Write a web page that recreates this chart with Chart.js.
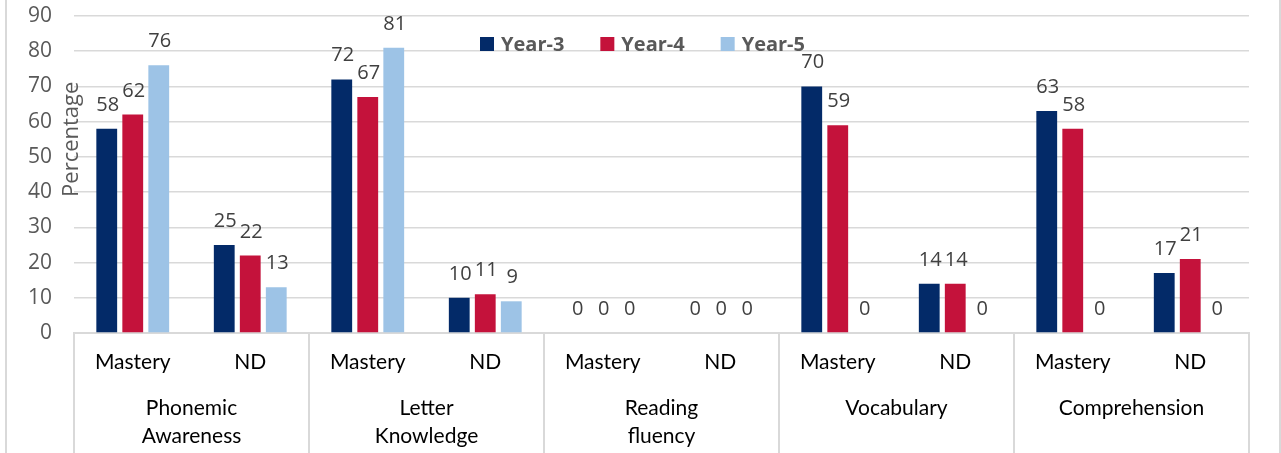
<!DOCTYPE html>
<html><head><meta charset="utf-8">
<script src="https://cdn.jsdelivr.net/npm/chart.js@4/dist/chart.umd.min.js"></script>
<style>html,body{margin:0;padding:0;background:#fff;}</style>
</head><body>
<canvas id="c" width="1281" height="453"></canvas>
<script>
// ---- data ----
const subCategories = ["Mastery","ND","Mastery","ND","Mastery","ND","Mastery","ND","Mastery","ND"];
const groups = [["Phonemic","Awareness"],["Letter","Knowledge"],["Reading","fluency"],"Vocabulary","Comprehension"];
const seriesNames = ["Year-3","Year-4","Year-5"];
const year3 = [58,25,72,10,0,0,70,14,63,17];
const year4 = [62,22,67,11,0,0,59,14,58,21];
const year5 = [76,13,81,9,0,0,0,0,0,0];
const yTicks = [0,10,20,30,40,50,60,70,80,90];
const yTitle = "Percentage";

// ---- styles ----
const colors = ["#032a68","#c4123b","#9dc3e6"];
const gridColor = "#d9d9d9";
const numFont = "'Open Sans', sans-serif";
const catFont = "Lato, sans-serif";

const frame = {
  id:'frame',
  beforeDraw(chart){
    const ctx = chart.ctx;
    ctx.save();
    ctx.strokeStyle = gridColor; ctx.lineWidth = 2;
    ctx.beginPath();
    ctx.moveTo(6,0); ctx.lineTo(6,chart.height);
    ctx.moveTo(1280,0); ctx.lineTo(1280,chart.height);
    ctx.stroke();
    ctx.restore();
  },
  afterDraw(chart){
    const ctx = chart.ctx, xs = chart.scales.x, ys = chart.scales.y, ca = chart.chartArea;
    ctx.save();
    ctx.strokeStyle = gridColor; ctx.lineWidth = 2;
    ctx.beginPath();
    for (let i = 0; i <= groups.length; i++) {
      const px = Math.round(xs.getPixelForValue(i*2 - 0.5));
      ctx.moveTo(px, xs.top); ctx.lineTo(px, chart.height);
    }
    ctx.stroke();
    ctx.fillStyle = "#595959";
    ctx.font = "22px " + numFont;
    ctx.textAlign = "center"; ctx.textBaseline = "middle";
    ctx.translate(ca.left - 2, ys.getPixelForValue(55));
    ctx.rotate(-Math.PI/2);
    ctx.fillText(yTitle, 0, 0);
    ctx.restore();
    ctx.save();
    ctx.font = "bold 20px " + numFont;
    ctx.textBaseline = "middle"; ctx.textAlign = "left";
    const box = 14, gapT = 7, gapI = 36;
    const items = chart.data.datasets.map(d => ({label:d.label, color:d.backgroundColor, w: ctx.measureText(d.label).width}));
    let total = items.reduce((s,it)=>s+box+gapT+it.w,0) + gapI*(items.length-1);
    let x = chart.width/2 - total/2 + 2;
    const y = ca.top + 28;
    items.forEach(it => {
      ctx.fillStyle = it.color; ctx.fillRect(x, y - box/2, box, box);
      x += box + gapT;
      ctx.fillStyle = "#595959"; ctx.fillText(it.label, x, y + 1);
      x += it.w + gapI;
    });
    ctx.restore();
  },
  afterDatasetsDraw(chart){
    const ctx = chart.ctx;
    ctx.save();
    ctx.font = "20px " + numFont;
    ctx.fillStyle = "#404040";
    ctx.textAlign = "center"; ctx.textBaseline = "alphabetic";
    chart.data.datasets.forEach((ds, di) => {
      const meta = chart.getDatasetMeta(di);
      meta.data.forEach((el, i) => {
        ctx.fillText(String(ds.data[i]), el.x + 1, el.y - 18);
      });
    });
    ctx.restore();
  }
};

new Chart(document.getElementById('c'), {
  type: 'bar',
  data: {
    labels: subCategories,
    datasets: seriesNames.map((n, i) => ({
      label: n,
      data: [year3, year4, year5][i],
      backgroundColor: colors[i],
      categoryPercentage: 0.664,
      barPercentage: 0.8,
      xAxisID: 'x'
    }))
  },
  options: {
    responsive: false,
    animation: false,
    devicePixelRatio: 1,
    layout: { padding: { left: 0, right: 32, top: 16, bottom: 0 } },
    plugins: { legend: { display: false }, tooltip: { enabled: false } },
    scales: {
      y: {
        min: yTicks[0], max: yTicks[yTicks.length-1],
        afterFit(s){ s.width = 74; },
        ticks: { stepSize: yTicks[1]-yTicks[0], color: "#595959", font: { family: "Open Sans", size: 21 }, padding: 0 },
        grid: { color: gridColor, lineWidth: 1.5, drawTicks: true, tickLength: 22, tickColor: 'rgba(0,0,0,0)' },
        border: { display: false }
      },
      x: {
        position: 'bottom',
        afterFit(s){ s.height = 58; },
        grid: { display: false, drawTicks: false },
        border: { display: true, color: gridColor, width: 2 },
        ticks: { color: "#000", font: { family: catFont, size: 21 }, padding: 17, maxRotation: 0, autoSkip: false }
      },
      x2: {
        type: 'category',
        position: 'bottom',
        labels: groups,
        afterFit(s){ s.height = 62; },
        grid: { display: false, drawTicks: false },
        border: { display: false },
        ticks: { color: "#000", font: { family: catFont, size: 21, lineHeight: 1.3 }, padding: 4, maxRotation: 0, autoSkip: false }
      }
    }
  },
  plugins: [frame]
});
</script>
</body></html>
